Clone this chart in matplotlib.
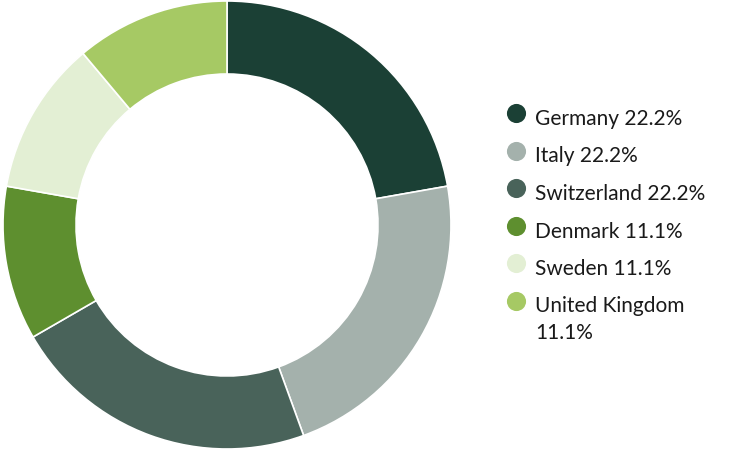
import matplotlib
matplotlib.use("Agg")
import matplotlib.pyplot as plt

categories = ["Germany", "Italy", "Switzerland", "Denmark", "Sweden", "United Kingdom"]
values = [2, 2, 2, 1, 1, 1]
colors = ["#1b4035", "#a4b1ac", "#49635a", "#5e8f2f", "#e3efd4", "#a6c964"]
wrap_label = [False, False, False, False, False, True]

plt.rcParams['font.family'] = ['Lato', 'DejaVu Sans']

W, H = 750, 450
fig = plt.figure(figsize=(7.5, 4.5), dpi=100)
fig.patch.set_facecolor("white")

cx, cy, r = 227, 225, 224
ax = fig.add_axes([(cx - r) / W, (H - cy - r) / H, 2 * r / W, 2 * r / H])
ax.pie(values, colors=colors, startangle=90, counterclock=False,
       wedgeprops=dict(width=73 / 224, edgecolor="white", linewidth=1.2))
ax.set_xlim(-1, 1)
ax.set_ylim(-1, 1)
ax.set_aspect("equal")
ax.axis("off")

# legend drawn in a pixel-coordinate overlay
lax = fig.add_axes([0, 0, 1, 1], facecolor="none")
lax.set_xlim(0, W)
lax.set_ylim(H, 0)
lax.axis("off")

total = sum(values)
y0 = 118
step = 37.5
for i, (name, v, c, wrap) in enumerate(zip(categories, values, colors, wrap_label)):
    y = y0 + i * step
    lax.scatter([516], [y - 5], s=190, color=c, linewidths=0)
    sep = "\n" if wrap else " "
    label = f"{name}{sep}{v / total * 100:.1f}%"
    lax.text(535, y - 9, label, fontsize=15, color="#1a1a1a",
             va="top", ha="left", linespacing=1.4)

fig.savefig("out.png", dpi=100)
